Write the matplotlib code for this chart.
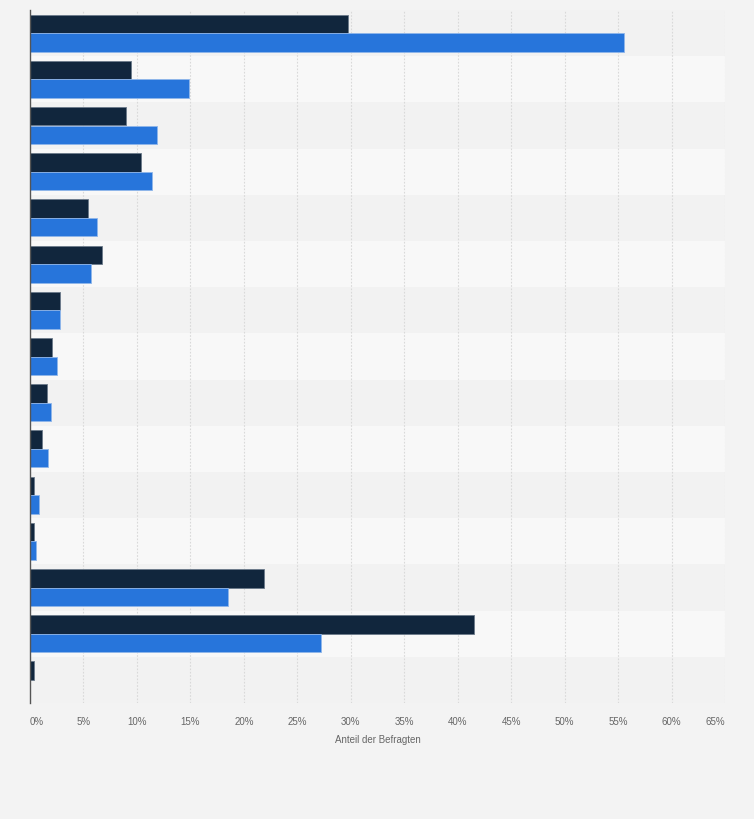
import matplotlib
matplotlib.use('Agg')
import matplotlib.pyplot as plt
import numpy as np

# values (percent of respondents), top row first
series_dark = [29.7, 9.4, 9.0, 10.4, 5.45, 6.75, 2.8, 2.1, 1.55, 1.15, 0.4, 0.4, 21.85, 41.5, 0.4]
series_blue = [55.6, 14.9, 11.9, 11.4, 6.3, 5.75, 2.8, 2.55, 2.0, 1.7, 0.8, 0.6, 18.5, 27.2, 0.0]
x_ticks = list(range(0, 70, 5))
x_tick_labels = [f'{t}%' for t in x_ticks]
x_label = 'Anteil der Befragten'

dark_color = '#11263d'
blue_color = '#2775db'
fig_bg = '#f3f3f3'

plt.rcParams['font.family'] = ['Liberation Sans', 'DejaVu Sans']

fig = plt.figure(figsize=(7.54, 8.19), dpi=100, facecolor=fig_bg)
ax = fig.add_axes([30 / 754, 1 - 703 / 819, 695 / 754, 693 / 819])
ax.set_facecolor(fig_bg)

n = len(series_dark)
y = np.arange(n)

# alternating row bands
for i in range(n):
    ax.axhspan(i - 0.5, i + 0.5, color='#f2f2f2' if i % 2 == 0 else '#f8f8f8', zorder=0, lw=0)

# dotted vertical grid
for t in x_ticks[1:]:
    ax.axvline(t, color='#d9d9d9', lw=0.8, ls=(0, (1.5, 1.5)), zorder=1)

h = 0.4
ax.barh(y - 0.2, series_dark, height=h, color=dark_color, edgecolor='#6b7a8a', linewidth=0.6, zorder=3)
ax.barh(y + 0.2, series_blue, height=h, color=blue_color, edgecolor='#8fb6ea', linewidth=0.6, zorder=3)

ax.set_xlim(0, 65)
ax.set_ylim(n - 0.5, -0.5)
ax.set_yticks([])

ax.set_xticks(x_ticks)
ax.set_xticklabels(x_tick_labels, fontsize=7, color='#666666')
labels = ax.get_xticklabels()
labels[0].set_ha('left')
labels[-1].set_ha('right')
ax.tick_params(axis='x', length=0, pad=10)
ax.set_xlabel(x_label, fontsize=7, color='#666666', labelpad=6)

for side in ['top', 'right', 'bottom']:
    ax.spines[side].set_visible(False)
ax.spines['left'].set_color('#555555')
ax.spines['left'].set_linewidth(1.0)
ax.spines['left'].set_zorder(5)

fig.savefig('out.png', dpi=100, facecolor=fig_bg)
